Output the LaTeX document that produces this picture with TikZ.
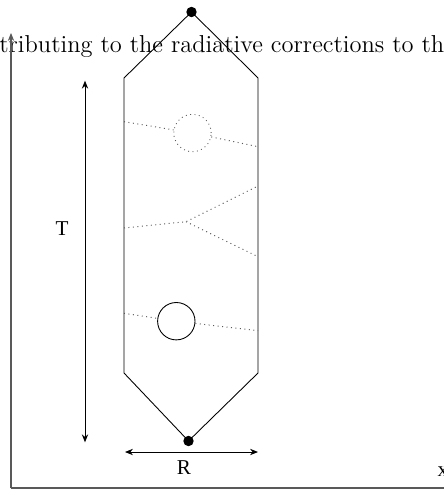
\documentclass[tikz,border=0pt]{standalone}
\usepackage{fontspec}
\newfontfamily\lblfont{Liberation Serif}
\usetikzlibrary{arrows.meta}
\begin{document}
\begin{tikzpicture}[x=0.568pt,y=-0.568pt,
  edge/.style={line width=0.5pt},
  dotline/.style={dotted, line width=0.55pt, gray!70!black},
  dim/.style={line width=0.5pt,{Stealth[length=4.5pt,width=3.6pt]}-{Stealth[length=4.5pt,width=3.6pt]}},
  axis/.style={line width=0.6pt, gray!70!black,-{Stealth[length=4.5pt,width=3.6pt]}},
  vdot/.style={circle, fill=black, inner sep=0pt, minimum size=10.4*0.568pt},
  loop/.style={circle, draw, inner sep=0pt, minimum size=37.4*0.568pt, line width=0.5pt},
  lbl/.style={inner sep=0pt, font=\lblfont\fontsize{12}{14}\selectfont}]
\useasboundingbox (0,0) rectangle (443,491);
% caption text (clipped by page)
\node[anchor=base west, inner sep=0pt, font=\fontsize{13.9}{16}\selectfont] (cap) at (-1,53) {tributing to the radiative corrections to th};
% axes
\coordinate (o) at (11,488);
\coordinate (ytop) at (11,33);
\coordinate (xend) at (470,488);
\draw[axis] (o) -- (ytop);
\draw[axis] (o) -- (xend);
\node[lbl] (xl) at (443,471.5) {x};
% hexagon
\node[vdot] (top) at (191.5,12) {};
\node[vdot] (bot) at (188.5,441) {};
\coordinate (ul) at (124,78);
\coordinate (ur) at (258,78);
\coordinate (ll) at (124,373);
\coordinate (lr) at (258,373);
\draw[edge] (top.center) -- (ul) -- (ll) -- (bot.center) -- (lr) -- (ur) -- cycle;
% upper loop (dotted)
\node[loop, dotted, gray!70!black] (c1) at (192.5,133) {};
\coordinate (a1) at (124,121.7);
\coordinate (b1) at (258,146.7);
\draw[dotline] (a1) -- (c1);
\draw[dotline] (c1) -- (b1);
% vertex
\coordinate (a2) at (124,228);
\coordinate (v2) at (186,221.7);
\coordinate (b2) at (258,186);
\coordinate (b3) at (258,256.7);
\draw[dotline] (a2) -- (v2) -- (b2);
\draw[dotline] (v2) -- (b3);
% lower loop (solid)
\node[loop] (c2) at (176.3,321.2) {};
\coordinate (a4) at (124,313.3);
\coordinate (b4) at (258,330.7);
\draw[dotline] (a4) -- (c2);
\draw[dotline] (c2) -- (b4);
% dimension arrows
\coordinate (t1) at (85,80.7);
\coordinate (t2) at (85,442.3);
\draw[dim] (t1) -- (t2);
\node[lbl] (tl) at (62,229) {T};
\coordinate (r1) at (125,452);
\coordinate (r2) at (258,452);
\draw[dim] (r1) -- (r2);
\node[lbl] (rl) at (184,467.5) {R};
\end{tikzpicture}
\end{document}
